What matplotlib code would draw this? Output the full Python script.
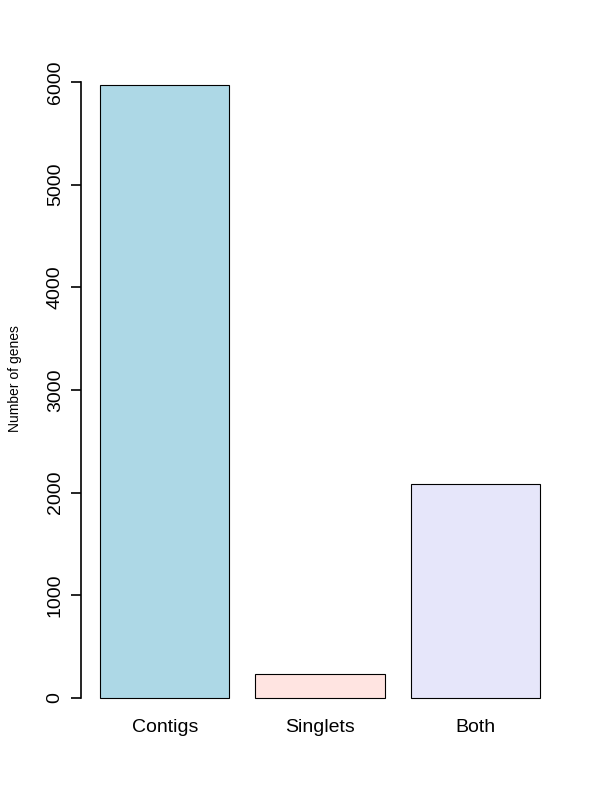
import matplotlib
matplotlib.use('Agg')
import matplotlib.pyplot as plt

# Gene counts per assembly source
categories = ['Contigs', 'Singlets', 'Both']
counts = [5970, 232, 2084]
colors = ['#ADD8E6', '#FFE4E1', '#E6E6FA']
yticks = [0, 1000, 2000, 3000, 4000, 5000, 6000]

plt.rcParams['font.family'] = ['Liberation Sans', 'DejaVu Sans']

fig = plt.figure(figsize=(6, 8), dpi=100)
ax = fig.add_axes([0.1375, 0.0969, 0.7917, 0.828])

# R barplot layout: width 1, space 0.2
xpos = [0.2 + 1.2 * i + 0.5 for i in range(len(categories))]
ax.bar(xpos, counts, width=1.0, color=colors, edgecolor='black', linewidth=0.8)

ax.set_xlim(0.064, 3.736)
ax.set_ylim(-239, 6213)

for side in ['top', 'right', 'bottom']:
    ax.spines[side].set_visible(False)
ax.spines['left'].set_bounds(0, 6000)
ax.spines['left'].set_position(('outward', 1))
ax.spines['left'].set_linewidth(1.2)

ax.set_yticks(yticks)
ax.set_yticklabels([str(t) for t in yticks], rotation=90, va='center',
                   fontsize=14)
ax.tick_params(axis='y', length=7.5, width=1.2, pad=5)

ax.set_xticks(xpos)
ax.set_xticklabels(categories, fontsize=14)
ax.tick_params(axis='x', length=0, pad=-2.5)

ax.set_ylabel('Number of genes', fontsize=10)
ax.yaxis.set_label_coords(-0.127, 0.519)

fig.savefig('out.png', dpi=100)
